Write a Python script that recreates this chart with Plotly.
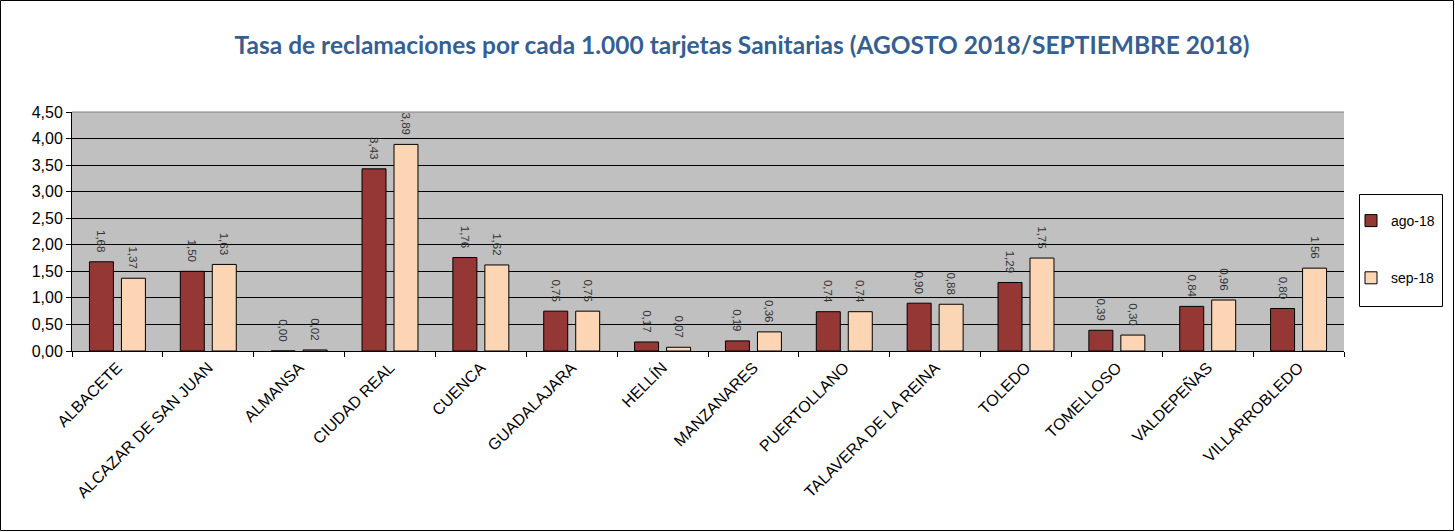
import plotly.graph_objects as go

categories = ["ALBACETE", "ALCAZAR DE SAN JUAN", "ALMANSA", "CIUDAD REAL", "CUENCA",
              "GUADALAJARA", "HELLÍN", "MANZANARES", "PUERTOLLANO", "TALAVERA DE LA REINA",
              "TOLEDO", "TOMELLOSO", "VALDEPEÑAS", "VILLARROBLEDO"]
ago_18 = [1.68, 1.50, 0.00, 3.43, 1.76, 0.75, 0.17, 0.19, 0.74, 0.90, 1.29, 0.39, 0.84, 0.80]
sep_18 = [1.37, 1.63, 0.02, 3.89, 1.62, 0.75, 0.07, 0.36, 0.74, 0.88, 1.75, 0.30, 0.96, 1.56]
series_names = ["ago-18", "sep-18"]
y_ticks = [0, 0.5, 1, 1.5, 2, 2.5, 3, 3.5, 4, 4.5]

W, H = 1455, 532
L, R, T, B = 72, 111, 112, 181
pw, ph = W - L - R, H - T - B

def px_x(x):
    return (x - L) / pw

def px_y(y):
    return (H - B - y) / ph

def fmt(v):
    return f"{v:.2f}".replace(".", ",") + "\u00a0\u00a0"

fig = go.Figure()
for name, vals, color in [(series_names[0], ago_18, "#953735"), (series_names[1], sep_18, "#FCD5B5")]:
    fig.add_trace(go.Bar(
        x=categories, y=vals, name=name, legendgroup=name,
        marker=dict(color=color, line=dict(color="black", width=1)),
        text=[fmt(v) for v in vals], textposition="outside", textangle=90,
        constraintext="none",
        textfont=dict(family="Liberation Sans, Arial", size=11.5, color="#333333"),
        cliponaxis=False,
    ))

fig.update_layout(
    width=W, height=H,
    margin=dict(l=L, r=R, t=T, b=B),
    paper_bgcolor="white", plot_bgcolor="#C0C0C0",
    barmode="group", bargap=0.296, bargroupgap=0.25,
    separators=",.",
    title=dict(text="<b>Tasa de reclamaciones por cada 1.000 tarjetas Sanitarias (AGOSTO 2018/SEPTIEMBRE 2018)</b>",
               x=742 / W, xanchor="center", y=1 - 45 / H, yanchor="middle",
               font=dict(family="Lato, Open Sans", size=24.5, color="#365F91")),
    font=dict(family="Liberation Sans, Arial", size=13, color="black"),
    legend=dict(x=px_x(1351), xanchor="left", y=px_y(205), yanchor="top",
                borderwidth=0, bgcolor="rgba(0,0,0,0)",
                font=dict(family="Liberation Sans, Arial", size=14, color="black"),
                tracegroupgap=36, itemwidth=30),
)
fig.update_xaxes(
    type="category", tickangle=-45, tickson="boundaries", ticks="outside", ticklen=5,
    tickcolor="black", showline=True, linecolor="black", linewidth=1, showgrid=False,
    tickfont=dict(family="Liberation Sans, Arial", size=16, color="black"),
)
fig.update_yaxes(
    range=[0, 4.5], tickvals=y_ticks, tickformat=".2f", ticks="outside", ticklen=5,
    tickcolor="black", showline=True, linecolor="black", linewidth=1,
    showgrid=True, gridcolor="black", gridwidth=1, zeroline=False,
    tickfont=dict(family="Liberation Sans, Arial", size=16, color="black"),
)
# gray top border of plot area
fig.add_shape(type="line", xref="paper", yref="paper", x0=0, x1=1, y0=1, y1=1,
              line=dict(color="#808080", width=1), layer="above")
# legend box
fig.add_shape(type="rect", xref="paper", yref="paper",
              x0=px_x(1359.5), x1=px_x(1442.5), y0=px_y(306.5), y1=px_y(194.5),
              line=dict(color="black", width=1), fillcolor="white", layer="above")
# outer chart border
fig.add_shape(type="rect", xref="paper", yref="paper",
              x0=px_x(0.5), x1=px_x(W - 1.5), y0=px_y(H - 1.5), y1=px_y(0.5),
              line=dict(color="black", width=1), layer="above")

fig.write_html("out.html", config={"displayModeBar": False},
               post_script="document.body.style.margin='0';document.body.style.overflow='hidden';")
